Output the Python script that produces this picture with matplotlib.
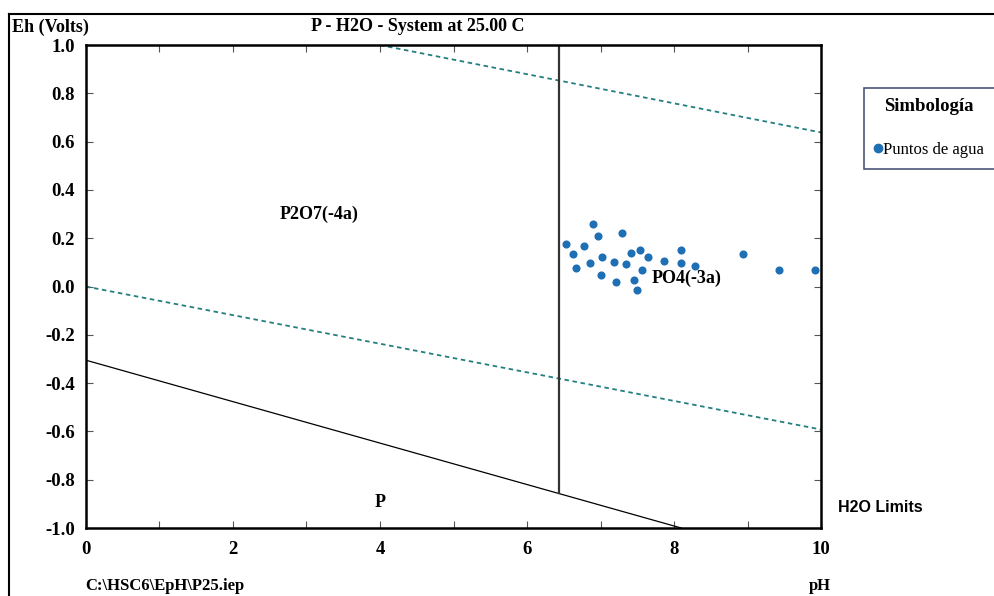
import matplotlib.pyplot as plt
from matplotlib.lines import Line2D
from matplotlib.ticker import MultipleLocator

# Puntos de agua (pH, Eh)
ph_puntos = [6.53, 6.90, 6.97, 7.29, 6.62, 6.78, 6.67, 6.86, 7.02, 7.01, 7.19, 7.34, 7.21,
             7.42, 7.54, 7.64, 7.56, 7.45, 7.50, 7.87, 8.09, 8.09, 8.28, 8.94, 9.43, 9.92]
eh_puntos = [0.177, 0.258, 0.209, 0.220, 0.133, 0.166, 0.075, 0.097, 0.121, 0.048, 0.100, 0.093, 0.017,
             0.137, 0.150, 0.121, 0.068, 0.027, -0.013, 0.104, 0.150, 0.096, 0.086, 0.135, 0.067, 0.068]

# Limites del agua (lineas discontinuas)
ph_h2o_sup = [4.0, 10.0]
eh_h2o_sup = [1.0, 0.638]
ph_h2o_inf = [0.0, 10.0]
eh_h2o_inf = [0.0, -0.592]

# Fronteras entre especies
ph_frontera_p = [0.0, 8.1]
eh_frontera_p = [-0.305, -1.0]
ph_frontera_po4 = [6.44, 6.44]
eh_frontera_po4 = [1.0, -0.856]

# Etiquetas de especies
especies = ['P2O7(-4a)', 'PO4(-3a)', 'P']
ph_especies = [3.17, 8.17, 4.0]
eh_especies = [0.30, 0.035, -0.895]

serif = 'Liberation Serif'
teal = '#237f80'
azul = '#1f6fb4'

fig = plt.figure(figsize=(9.94, 5.96), dpi=100)
ax = fig.add_axes([0.0865, 0.114, 0.7395, 0.8104])

ax.plot(ph_h2o_sup, eh_h2o_sup, color=teal, lw=1.3, linestyle=(0, (2.5, 2)))
ax.plot(ph_h2o_inf, eh_h2o_inf, color=teal, lw=1.3, linestyle=(0, (2.5, 2)))
ax.plot(ph_frontera_p, eh_frontera_p, color='black', lw=0.9)
ax.plot(ph_frontera_po4, eh_frontera_po4, color='#333333', lw=1.6)

ax.scatter(ph_puntos, eh_puntos, s=34, color=azul, zorder=3, linewidths=0)

for nombre, x, y in zip(especies, ph_especies, eh_especies):
    ax.text(x, y, nombre, ha='center', va='center', fontsize=13,
            fontweight='bold', family=serif)

ax.set_xlim(0, 10)
ax.set_ylim(-1, 1)
ax.xaxis.set_major_locator(MultipleLocator(2))
ax.xaxis.set_minor_locator(MultipleLocator(1))
ax.yaxis.set_major_locator(MultipleLocator(0.2))
ax.tick_params(which='both', direction='in', top=True, right=True, length=5,
               width=0.8, color='#555555')
ax.tick_params(axis='both', which='major', pad=8, labelsize=13.5)
ax.tick_params(axis='x', which='major', pad=9)
ax.set_yticks([-1.0, -0.8, -0.6, -0.4, -0.2, 0.0, 0.2, 0.4, 0.6, 0.8, 1.0])
ax.set_yticklabels(['-1.0', '-0.8', '-0.6', '-0.4', '-0.2', '0.0', '0.2', '0.4', '0.6', '0.8', '1.0'])
for lbl in ax.get_xticklabels() + ax.get_yticklabels():
    lbl.set_family(serif)
    lbl.set_fontweight('bold')
for sp in ax.spines.values():
    sp.set_linewidth(1.8)

# Textos fuera del grafico
fig.text(0.012, 0.9547, 'Eh (Volts)', fontsize=13, fontweight='bold', family=serif, va='center')
fig.text(0.4205, 0.9547, 'P - H2O - System at 25.00 C', fontsize=13, fontweight='bold',
         family=serif, ha='center', va='center')
fig.text(0.843, 0.148, 'H2O Limits', fontsize=11.5, fontweight='bold',
         family='Liberation Sans', va='center')
fig.text(0.0855, 0.0168, 'C:\\HSC6\\EpH\\P25.iep', fontsize=12, fontweight='bold',
         family=serif, va='center')
fig.text(0.825, 0.0168, 'pH', fontsize=12, fontweight='bold', family=serif,
         ha='center', va='center')

# Marco exterior
fig.add_artist(Line2D([0.0095, 0.0095], [0.0, 0.977], color='black', lw=1.5))
fig.add_artist(Line2D([0.0095, 1.0], [0.977, 0.977], color='black', lw=1.5))

# Leyenda
handle = Line2D([], [], marker='o', linestyle='none', color=azul, markersize=6)
leg = fig.legend([handle], ['Puntos de agua'], loc='upper left',
                 bbox_to_anchor=(0.869, 0.853), title='Simbología',
                 prop={'family': serif, 'size': 12},
                 title_fontproperties={'family': serif, 'size': 13.5, 'weight': 'bold'},
                 frameon=True, fancybox=False, handlelength=0.4, handletextpad=0.1,
                 borderpad=0.65, borderaxespad=0, labelspacing=0.5)
leg.get_frame().set_edgecolor('#1f2a55')
leg.get_frame().set_linewidth(1.2)
leg._legend_box.sep = 19

fig.savefig('out.png', dpi=100)
